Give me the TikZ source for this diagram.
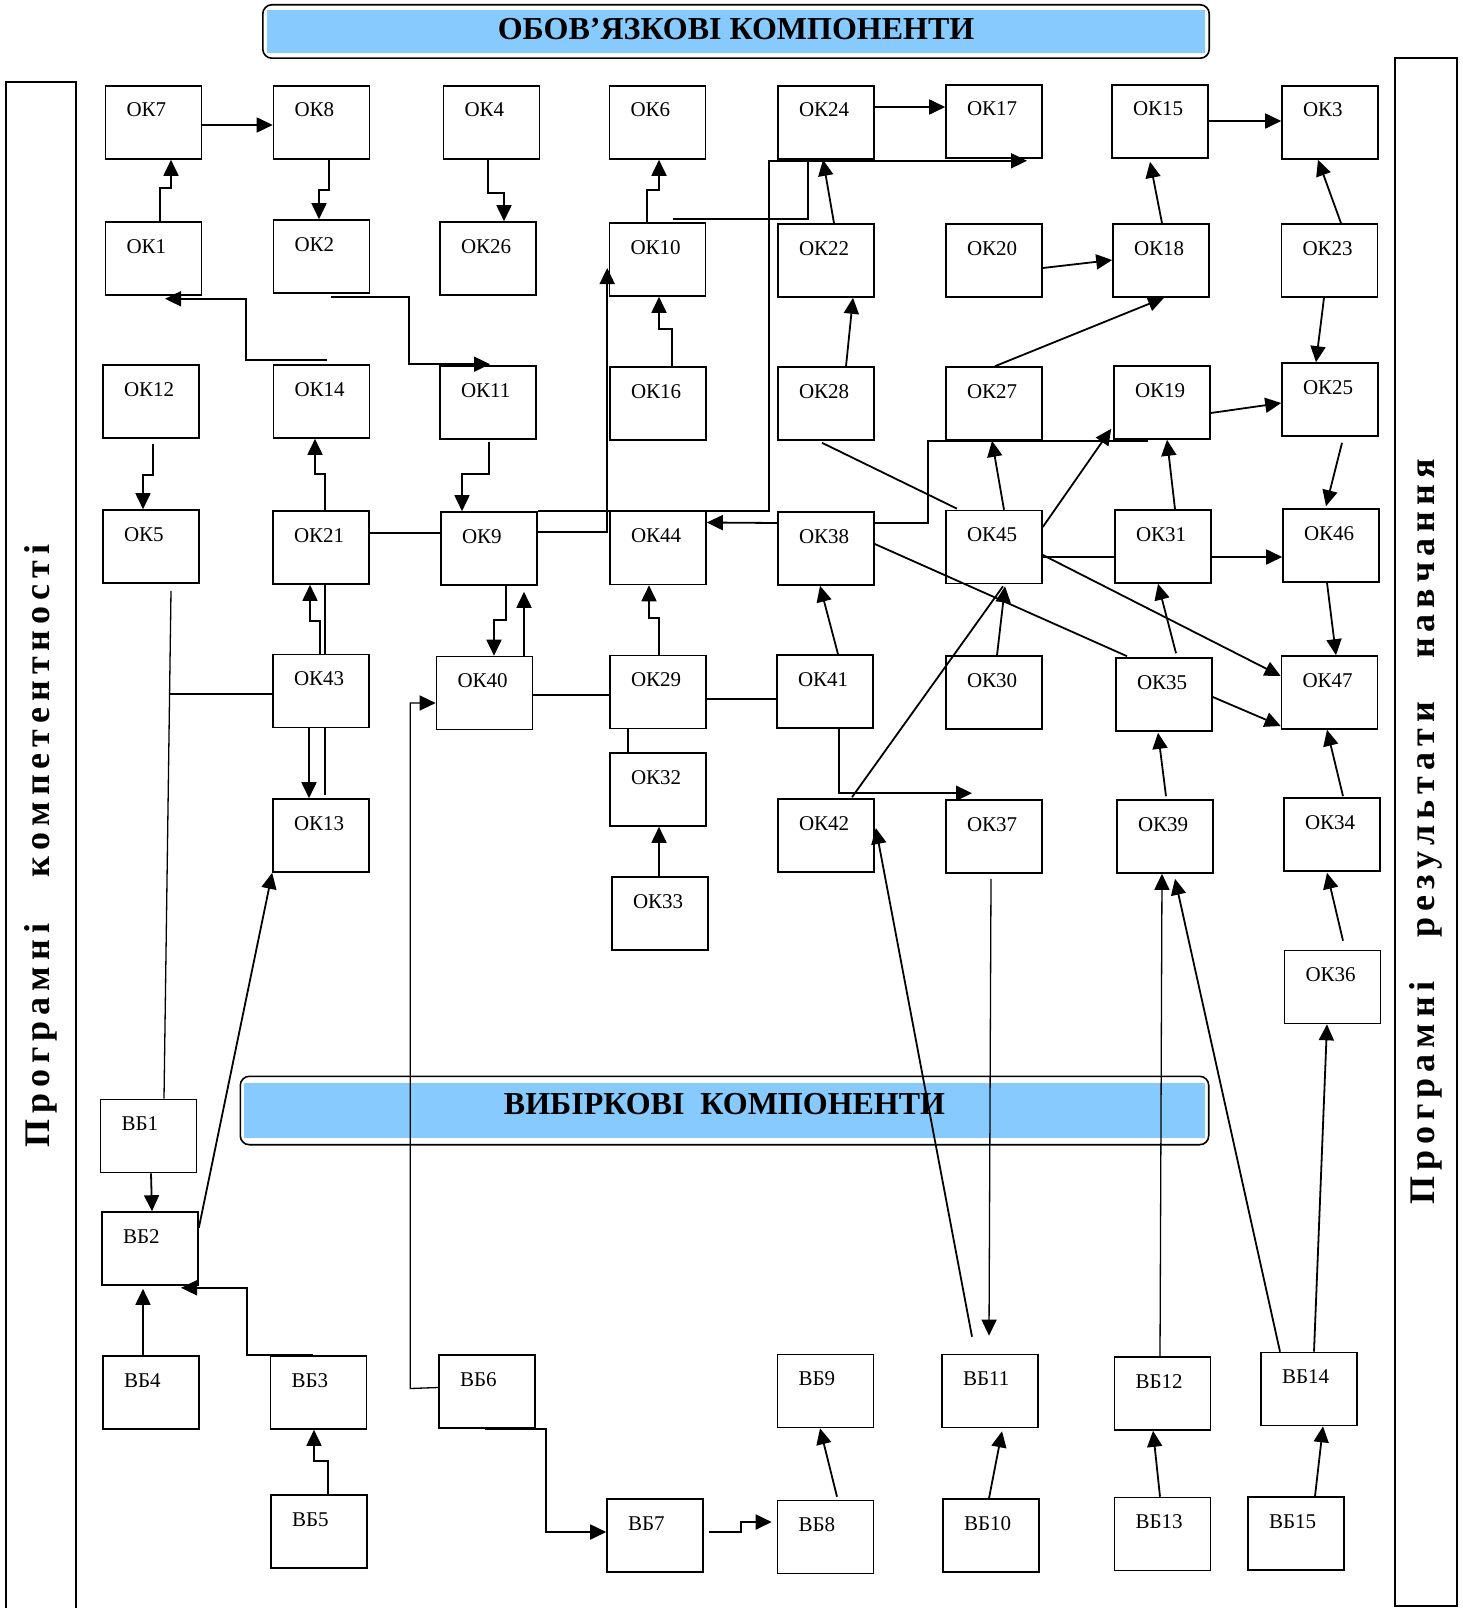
\documentclass[tikz,border=0pt]{standalone}
\usepackage{fontspec}
\setmainfont{Liberation Serif}
\usepackage{tikz}
\usetikzlibrary{positioning,arrows.meta,fit,shapes}
\definecolor{skyblue}{RGB}{135,202,254}

\begin{document}
\begin{tikzpicture}[x=1pt,y=-1pt,
                box/.style={draw, line width=1.6pt, minimum width=96pt, minimum height=73pt,
                    inner xsep=21pt, inner ysep=0pt, text width=54pt, align=left,
                    text height=14pt, text depth=25pt, font=\fontsize{21}{24}\selectfont},
                arr/.style={line width=1.8pt, -{Triangle[length=16pt,width=15pt]}},
                wire/.style={line width=1.8pt},
                longwire/.style={line width=1.3pt},
                title/.style={fill=skyblue, inner sep=0pt, font=\fontsize{32}{36}\selectfont\bfseries},
                frame/.style={draw, line width=1.6pt, rounded corners=9pt, inner xsep=4pt, inner ysep=5pt},
                panel/.style={draw, line width=1.5pt, inner sep=0pt, font=\fontsize{36}{40}\selectfont\bfseries}]
            \useasboundingbox (0,0) rectangle (1462,1608);

            \node[panel, rotate=90, minimum width=1528pt, minimum height=70pt] (competence) at (41,846)
                {П\,р\,о\,г\,р\,а\,м\,н\,і\hspace{1.3em}к\,о\,м\,п\,е\,т\,е\,н\,т\,н\,о\,с\,т\,і\hspace{10pt}};
            \node[panel, rotate=90, minimum width=1548pt, minimum height=62pt] (outcomes) at (1426,832)
                {П\,р\,о\,г\,р\,а\,м\,н\,і\hspace{1.2em}р\,е\,з\,у\,л\,ь\,т\,а\,т\,и\hspace{1.2em}н\,а\,в\,ч\,а\,н\,н\,я\hspace{8pt}};

            \node[title, minimum width=938pt, minimum height=43pt, text depth=5pt] (oblig) at (736,31.5) {ОБОВ’ЯЗКОВІ КОМПОНЕНТИ};
            \node[frame, fit=(oblig)] (obligframe) {};
            \node[title, minimum width=961pt, minimum height=55pt, text depth=14pt] (vybir) at (724.5,1110.5) {ВИБІРКОВІ\ \ КОМПОНЕНТИ};
            \node[frame, inner xsep=3.5pt, inner ysep=6.5pt, fit=(vybir)] (vybirframe) {};

            \node[box] (ok7) at (153.5,122.5) {ОК7};
            \node[box] (ok8) at (321.5,122.5) {ОК8};
            \node[box] (ok4) at (491.5,122.5) {ОК4};
            \node[box] (ok6) at (657.5,122.5) {ОК6};
            \node[box] (ok24) at (826,122.5) {ОК24};
            \node[box] (ok17) at (994,121.5) {ОК17};
            \node[box] (ok15) at (1160,121.5) {ОК15};
            \node[box] (ok3) at (1330,122.5) {ОК3};

            \node[box] (ok1) at (153.5,258.5) {ОК1};
            \node[box] (ok2) at (321.5,256.5) {ОК2};
            \node[box] (ok26) at (488,258.5) {ОК26};
            \node[box] (ok10) at (657.5,259.5) {ОК10};
            \node[box] (ok22) at (826,260.5) {ОК22};
            \node[box] (ok20) at (994,260.5) {ОК20};
            \node[box] (ok18) at (1161,260.5) {ОК18};
            \node[box] (ok23) at (1329.5,260.5) {ОК23};

            \node[box] (ok12) at (151,401.5) {ОК12};
            \node[box] (ok14) at (321.5,401.5) {ОК14};
            \node[box] (ok11) at (488,402.5) {ОК11};
            \node[box] (ok16) at (658,403.5) {ОК16};
            \node[box] (ok28) at (826,403.5) {ОК28};
            \node[box] (ok27) at (994,403.5) {ОК27};
            \node[box] (ok19) at (1162,402.5) {ОК19};
            \node[box] (ok25) at (1330,399.5) {ОК25};

            \node[box] (ok5) at (151,546.5) {ОК5};
            \node[box] (ok21) at (321,547.5) {ОК21};
            \node[box] (ok9) at (489,548.5) {ОК9};
            \node[box] (ok44) at (658,548) {ОК44};
            \node[box] (ok38) at (826,548.5) {ОК38};
            \node[box] (ok45) at (994,547) {ОК45};
            \node[box] (ok31) at (1163,546.5) {ОК31};
            \node[box] (ok46) at (1331,545.5) {ОК46};

            \node[box] (ok43) at (321,691) {ОК43};
            \node[box] (ok40) at (484.5,693) {ОК40};
            \node[box] (ok29) at (658,692) {ОК29};
            \node[box] (ok41) at (825,691.5) {ОК41};
            \node[box] (ok30) at (994,692.5) {ОК30};
            \node[box] (ok35) at (1164,694.5) {ОК35};
            \node[box] (ok47) at (1329.5,692.5) {ОК47};

            \node[box] (ok32) at (658,789.5) {ОК32};
            \node[box] (ok13) at (321,835.5) {ОК13};
            \node[box] (ok42) at (826,835.5) {ОК42};
            \node[box] (ok37) at (994,836.5) {ОК37};
            \node[box] (ok39) at (1165,836.5) {ОК39};
            \node[box] (ok34) at (1332,834.5) {ОК34};
            \node[box] (ok33) at (660,913.5) {ОК33};
            \node[box] (ok36) at (1332.5,987) {ОК36};

            \node[box] (vb1) at (148.5,1136) {ВБ1};
            \node[box] (vb2) at (150,1248.5) {ВБ2};
            \node[box] (vb4) at (151,1392.5) {ВБ4};
            \node[box] (vb3) at (318.5,1392.5) {ВБ3};
            \node[box] (vb5) at (319,1531.5) {ВБ5};
            \node[box] (vb6) at (487,1391.5) {ВБ6};
            \node[box] (vb7) at (655,1535.5) {ВБ7};
            \node[box] (vb8) at (825.5,1537) {ВБ8};
            \node[box] (vb9) at (825.5,1391) {ВБ9};
            \node[box] (vb11) at (990,1391) {ВБ11};
            \node[box] (vb10) at (991,1535.5) {ВБ10};
            \node[box] (vb12) at (1162.5,1393.5) {ВБ12};
            \node[box] (vb13) at (1162.5,1534) {ВБ13};
            \node[box] (vb14) at (1309,1389) {ВБ14};
            \node[box] (vb15) at (1296,1533.5) {ВБ15};

            \draw[arr] ([yshift=-2.5pt]ok7.east) -- ([yshift=-2.5pt]ok8.west);
            \draw[arr] ([xshift=6.5pt]ok1.north) -- ++(0,-33) -| ([xshift=17.5pt]ok7.south);
            \draw[arr] ([xshift=7.5pt]ok8.south) -- ++(0,30) -| ([xshift=-2.5pt]ok2.north);
            \draw[arr] ([xshift=-3.5pt]ok4.south) -- ++(0,33) -| ([xshift=16pt]ok26.north);
            \draw[arr] ([xshift=5.5pt,yshift=4pt]ok14.north) -- ++(-81,0) |- ([xshift=11.5pt,yshift=-3pt]ok1.south);
            \draw[arr] ([xshift=9.5pt,yshift=-3pt]ok2.south) -- ++(78,0) |- ([xshift=2pt,yshift=1pt]ok11.north);
            \draw[arr] ([xshift=-10.5pt]ok10.north) -- ++(0,-32) -| ([xshift=1.5pt]ok6.south);
            \draw[arr] ([yshift=15.5pt]ok24.east) -- ([yshift=14.5pt]ok17.west);
            \draw[arr] (ok9.north east) -- ++(231,0) |- ([xshift=33pt,yshift=-2pt]ok17.south);
            \draw[wire] ([xshift=15.5pt,yshift=3pt]ok10.north) -| ([xshift=-18pt,yshift=-2pt]ok24.south);
            \draw[arr] ([yshift=16.5pt]ok9.east) -| ([xshift=-1.5pt,yshift=-8.5pt]ok10.west);
            \draw[arr] ([yshift=25.5pt]ok38.west) -- ([yshift=25.5pt]ok44.east);
            \draw[wire] ([xshift=-14pt,yshift=-1pt]ok19.south) -- ++(-220,0) |- ([yshift=25.5pt]ok38.east);
            \draw[arr] ([xshift=20pt]ok28.north) -- ([xshift=27pt]ok22.south);
            \draw[arr] ([xshift=8pt]ok22.north) -- ([xshift=-3pt]ok24.south);
            \draw[arr] ([xshift=14pt]ok16.north) -- ++(0,-37) -| ([xshift=1.5pt]ok10.south);
            \draw[wire] ([xshift=-4pt,yshift=-2pt]ok28.south) -- ([xshift=-37pt,yshift=1pt]ok45.north);
            \draw[wire] ([yshift=4.5pt]ok38.east) -- ([xshift=-37pt,yshift=1pt]ok35.north);
            \draw[wire] ([xshift=26pt,yshift=1pt]ok42.north) -- ([xshift=9pt,yshift=-2pt]ok45.south);
            \draw[arr] ([xshift=3pt]ok30.north) -- ([xshift=11pt,yshift=-2pt]ok45.south);
            \draw[arr] ([xshift=13pt]ok41.north) -- ([xshift=-6pt]ok38.south);
            \draw[arr] ([xshift=1pt]ok29.north) -- ++(0,-37) -| ([xshift=-9pt]ok44.south);
            \draw[arr] ([xshift=17pt]ok9.south) -- ++(0,34) -| ([xshift=9.5pt]ok40.north);
            \draw[arr] ([xshift=39.5pt]ok40.north) -- ([xshift=35pt,yshift=-6pt]ok9.south);
            \draw[wire] ([yshift=-2pt]ok40.east) -- ([yshift=-3pt]ok29.west);
            \draw[wire] ([yshift=-7pt]ok29.east) -- ([yshift=-7.5pt]ok41.west);
            \draw[wire] ([xshift=-30pt]ok29.south) -- ([xshift=-30pt]ok32.north);
            \draw[arr] ([xshift=-1pt]ok33.north) -- ([xshift=1pt]ok32.south);
            \draw[arr] ([xshift=14pt]ok41.south) |- ([xshift=-22pt,yshift=6pt]ok37.north);
            \draw[arr] ([xshift=-18pt,yshift=17pt]vb11.north) -- ([xshift=1pt,yshift=7.5pt]ok42.east);
            \draw[arr,longwire] ([xshift=-3pt,yshift=-5pt]ok37.south) -- ([xshift=-1pt,yshift=18pt]vb11.north);
            \draw[arr,longwire] ([xshift=-2.5pt]vb12.north) -- ([xshift=-3pt]ok39.south);
            \draw[arr] ([xshift=-29pt]vb14.north) -- ([xshift=10pt,yshift=-5pt]ok39.south);
            \draw[arr] ([xshift=5pt]vb14.north) -- ([xshift=-5.5pt]ok36.south);
            \draw[arr] ([xshift=10.5pt,yshift=9pt]ok36.north) -- ([xshift=-5pt,yshift=-1pt]ok34.south);
            \draw[arr] ([xshift=11pt,yshift=1pt]ok34.north) -- ([xshift=-2.5pt]ok47.south);
            \draw[arr] ([xshift=1pt,yshift=3pt]ok39.north) -- ([xshift=-6pt,yshift=-1pt]ok35.south);
            \draw[arr] ([xshift=12pt,yshift=4pt]ok35.north) -- ([xshift=-5pt]ok31.south);
            \draw[arr] ([yshift=-2.5pt]ok35.east) -- ([yshift=-33.5pt]ok47.west);
            \draw[arr] ([yshift=-8pt]ok45.east) -- ([yshift=16.5pt]ok47.west);
            \draw[wire] ([yshift=-10pt]ok45.east) -- ([yshift=-10.5pt]ok31.west);
            \draw[arr] ([yshift=-10.5pt]ok31.east) -- ([yshift=-11.5pt]ok46.west);
            \draw[arr] ([xshift=-4pt]ok46.south) -- ([xshift=6.5pt]ok47.north);
            \draw[arr] ([xshift=12pt,yshift=-6pt]ok25.south) -- ([xshift=-5pt,yshift=2pt]ok46.north);
            \draw[arr] ([yshift=-10.5pt]ok19.east) -- ([yshift=-3.5pt]ok25.west);
            \draw[arr] ([xshift=-5.5pt]ok23.south) -- ([xshift=-14pt]ok25.north);
            \draw[arr] ([xshift=11.5pt]ok23.north) -- ([xshift=-12pt]ok3.south);
            \draw[arr] ([yshift=0.5pt]ok15.east) -- ([yshift=1.5pt]ok3.west);
            \draw[arr] ([xshift=1pt]ok18.north) -- ([xshift=-10pt,yshift=-3pt]ok15.south);
            \draw[arr] ([yshift=-7.5pt]ok20.east) -- ([yshift=0.5pt]ok18.west);
            \draw[arr] ([xshift=1pt]ok27.north) -- ([xshift=3pt]ok18.south);
            \draw[arr] ([xshift=10pt]ok45.north) -- ([xshift=-2pt]ok27.south);
            \draw[arr] ([yshift=20pt]ok45.east) -- ([xshift=-2pt,yshift=11pt]ok19.south west);
            \draw[arr] ([xshift=12pt]ok31.north) -- ([xshift=5pt]ok19.south);

            \draw[arr] ([xshift=2pt,yshift=-5pt]ok12.south) -- ++(0,31) -| ([xshift=-8pt]ok5.north);
            \draw[arr] ([xshift=4pt]ok21.north) -- ++(0,-36) -| ([xshift=-6.5pt]ok14.south);
            \draw[arr] ([xshift=1pt,yshift=-2pt]ok11.south) -- ++(0,32) -| ([xshift=-27pt]ok9.north);
            \draw[arr] ([xshift=-1pt]ok43.north) -- ++(0,-33) -| ([xshift=-11pt]ok21.south);
            \draw[wire] ([xshift=4pt]ok21.south) -- ([xshift=4pt]ok43.north);
            \draw[arr] ([xshift=-12pt]ok43.south) -- ([xshift=-12pt]ok13.north);
            \draw[wire] ([xshift=4pt]ok43.south) -- ([xshift=4pt,yshift=3pt]ok13.north);
            \draw[wire] ([yshift=14.5pt]ok21.east) -- ([yshift=15.5pt]ok9.west);
            \draw[longwire] ([xshift=20pt,yshift=-7pt]ok5.south) -- ([xshift=15.5pt]vb1.north);
            \draw[wire] ([yshift=-3pt]ok43.west) -- ++(-103,0);
            \draw[arr] ([yshift=20.5pt]vb2.east) -- (ok13.south west);
            \draw[arr] ([xshift=2.5pt]vb1.south) -- ([xshift=2pt]vb2.north);
            \draw[arr] ([xshift=-8pt]vb4.north) -- ([xshift=-7pt,yshift=-3pt]vb2.south);
            \draw[arr] ([xshift=-5.5pt]vb3.north) -- ++(-66,0) |- ([xshift=31pt,yshift=-2pt]vb2.south);
            \draw[arr] ([xshift=9pt]vb5.north) -- ++(0,-33) -| ([xshift=-4.5pt]vb3.south);
            \draw[arr,longwire] ([yshift=4pt]vb6.west) -- ++(-28,1) |- ([yshift=-10pt]ok40.west);
            \draw[arr] ([xshift=-2pt]vb6.south) -- ++(61,0) |- ([yshift=3.5pt]vb7.west);
            \draw[arr] ([xshift=5pt,yshift=3.5pt]vb7.east) -- ++(32,0) |- ([xshift=-5pt,yshift=15pt]vb8.west);
            \draw[arr] ([xshift=11.5pt,yshift=3pt]vb8.north) -- ([xshift=-5.5pt]vb9.south);
            \draw[arr] ([xshift=-2pt]vb10.north) -- ([xshift=12pt,yshift=-3pt]vb11.south);
            \draw[arr] ([xshift=-2.5pt]vb13.north) -- ([xshift=-9.5pt]vb12.south);
            \draw[arr] ([xshift=19pt]vb15.north) -- ([xshift=14pt]vb14.south);
        \end{tikzpicture}
\end{document}
